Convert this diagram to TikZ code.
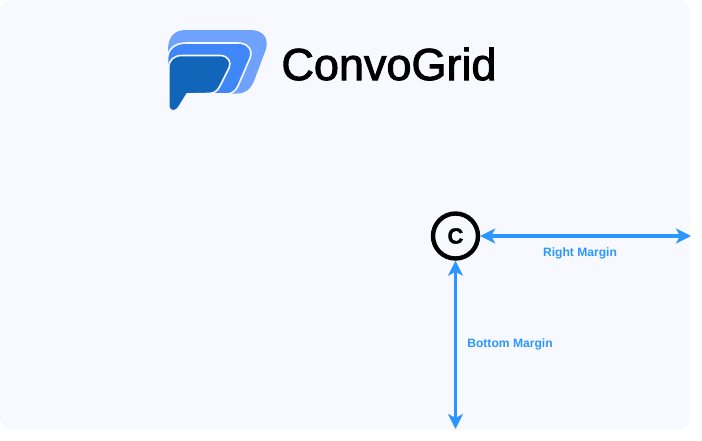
\documentclass[tikz,border=0pt]{standalone}
\usepackage{fontspec}
\setmainfont{Liberation Sans}
\newfontfamily\logofont[FakeBold=2]{Liberation Sans}
\newfontfamily\cornerfont[FakeBold=1.5]{Liberation Sans Bold}
\usetikzlibrary{arrows.meta}
\definecolor{panelbg}{HTML}{F8F9FF}
\definecolor{marginblue}{HTML}{2B96FF}
\definecolor{logolight}{HTML}{6FA2FC}
\definecolor{logomid}{HTML}{3F87F8}
\definecolor{logodark}{HTML}{1266BA}
\begin{document}
\begin{tikzpicture}
	[x=1pt, y=-1pt,
	thick,
	panel/.style = {fill=panelbg, rounded corners=12pt},
	logopart/.style = {draw=panelbg, line width=1.6pt, line join=round},
	corner/.style = {draw, circle, line width=4.4pt, fill=panelbg, inner sep=0pt, minimum size=45pt, font=\cornerfont\fontsize{22}{22}\selectfont},
	margin/.style = {draw=marginblue, line width=3.2pt, {Stealth[length=15pt,width=15pt,inset=4pt]}-{Stealth[length=15pt,width=15pt,inset=4pt]}},
	marginlabel/.style = {text=marginblue, font=\bfseries\fontsize{12.1}{12.1}\selectfont, inner sep=0pt}]
\useasboundingbox (0,0) rectangle (702,440);
\fill[panel] (0,0) rectangle (690,430);
% logo
\fill[logolight] (168,50) .. controls (168,37) and (174,30) .. (186,30) -- (250,30) .. controls (263,30) and (269,38) .. (266,49) -- (254,81) .. controls (250,90) and (245,93.5) .. (237,93.5) -- (225,93.5) -- (168,60) -- cycle;
\filldraw[logopart, fill=logomid] (167.5,59) .. controls (167.5,49) and (175,43) .. (186,43) -- (238,43) .. controls (248,43) and (253,50) .. (250,58) -- (238,86) .. controls (235,92) and (231,94) .. (226,94) -- (205,94) -- (167.5,70) -- cycle;
\filldraw[logopart, fill=logodark] (168.7,68) .. controls (168.7,60) and (174,55.5) .. (182,55.5) -- (220,55.5) .. controls (228,55.5) and (232,62) .. (229,68) -- (220,86) .. controls (217,92) and (213,93.5) .. (208,93.5) -- (187,94) -- (179,107) .. controls (175,113) and (168.7,112) .. (168.7,105) -- cycle;
\node (logotext) at (389,64) {\logofont\fontsize{45}{45}\selectfont ConvoGrid};
% margins
\node[corner] (c) at (455.5,236) {C};
\coordinate (rightedge) at (691,236);
\coordinate (bottomedge) at (455.5,429);
\draw[margin] (c) -- (rightedge);
\draw[margin] (c) -- (bottomedge);
\node[marginlabel] (rightlabel) at (580,253.5) {Right Margin};
\node[marginlabel] (bottomlabel) at (510,344) {Bottom Margin};
\end{tikzpicture}
\end{document}
